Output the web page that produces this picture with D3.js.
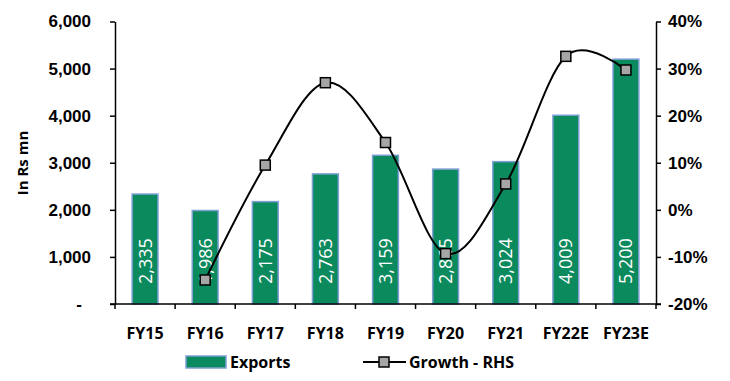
<!DOCTYPE html>
<html>
<head>
<meta charset="utf-8">
<script src="https://cdn.jsdelivr.net/npm/d3@7"></script>
<style>
  body { margin: 0; background: #fff; }
  svg { display: block; font-family: "Open Sans", sans-serif; }
</style>
</head>
<body>
<svg id="chart" width="730" height="381"></svg>
<script>
// data
const years = ["FY15", "FY16", "FY17", "FY18", "FY19", "FY20", "FY21", "FY22E", "FY23E"];
const exportsRsMn = [2335, 1986, 2175, 2763, 3159, 2865, 3024, 4009, 5200];
const growth = [null, -0.149, 0.095, 0.270, 0.143, -0.093, 0.055, 0.326, 0.297];
const leftTicks = [0, 1000, 2000, 3000, 4000, 5000, 6000];
const rightTicks = [-0.2, -0.1, 0, 0.1, 0.2, 0.3, 0.4];

const svg = d3.select("#chart");
const plot = { left: 115, right: 656, top: 21.5, bottom: 304 };

const x = d3.scaleBand()
  .domain(years)
  .range([plot.left, plot.right])
  .paddingInner(0.57)
  .paddingOuter(0.285);
const xStep = d3.scaleBand().domain(years).range([plot.left, plot.right]);
const yLeft = d3.scaleLinear().domain([0, 6000]).range([plot.bottom, plot.top]);
const yRight = d3.scaleLinear().domain([-0.2, 0.4]).range([plot.bottom, plot.top]);

// bars
svg.append("g")
  .selectAll("rect")
  .data(exportsRsMn)
  .join("rect")
  .attr("x", (d, i) => x(years[i]))
  .attr("y", d => yLeft(d))
  .attr("width", x.bandwidth())
  .attr("height", d => yLeft(0) - yLeft(d))
  .attr("fill", "#0b8a5e")
  .attr("stroke", "#7e9fd3")
  .attr("stroke-width", 1.5);

// data labels, inside base, rotated
svg.append("g")
  .selectAll("text")
  .data(exportsRsMn)
  .join("text")
  .attr("transform", (d, i) => `translate(${x(years[i]) + x.bandwidth() / 2 + 6.5},${yLeft(0) - 20}) rotate(-90)`)
  .attr("text-anchor", "start")
  .attr("fill", "#fff")
  .style("font-size", "18px")
  .text(d => d3.format(",")(d));

// left axis
const leftAxis = svg.append("g")
  .attr("transform", `translate(${plot.left},0)`)
  .call(d3.axisLeft(yLeft).tickValues(leftTicks).tickSize(5).tickSizeOuter(0)
    .tickFormat(d => d === 0 ? "-" : d3.format(",")(d)));
leftAxis.selectAll("text")
  .attr("x", d => d === 0 ? -33 : -24)
  .style("font-size", "17px").style("font-weight", "bold").attr("fill", "#000");

// right axis
const rightAxis = svg.append("g")
  .attr("transform", `translate(${plot.right},0)`)
  .call(d3.axisRight(yRight).tickValues(rightTicks).tickSize(5).tickSizeOuter(0)
    .tickFormat(d => Math.round(d * 100) + "%"));
rightAxis.selectAll("text")
  .attr("x", 12)
  .style("font-size", "17px").style("font-weight", "bold").attr("fill", "#000");

// x axis, ticks between categories
const xAxis = svg.append("g")
  .attr("transform", `translate(0,${plot.bottom})`);
xAxis.append("line")
  .attr("x1", plot.left - 5).attr("x2", plot.right + 5)
  .attr("stroke", "#000").attr("stroke-width", 1.5);
xAxis.selectAll("line.tick")
  .data(years.concat(["end"]))
  .join("line")
  .attr("class", "tick")
  .attr("x1", (d, i) => i < years.length ? xStep(d) : plot.right)
  .attr("x2", (d, i) => i < years.length ? xStep(d) : plot.right)
  .attr("y1", 0).attr("y2", 5)
  .attr("stroke", "#000").attr("stroke-width", 1.5);
xAxis.selectAll("text")
  .data(years)
  .join("text")
  .attr("x", d => xStep(d) + xStep.bandwidth() / 2)
  .attr("y", 35)
  .attr("text-anchor", "middle")
  .style("font-size", "16px").style("font-weight", "bold")
  .text(d => d);

svg.selectAll(".domain, .tick line").attr("stroke", "#000").attr("stroke-width", 1.5);

// axis title
svg.append("text")
  .attr("transform", "translate(28,163) rotate(-90)")
  .attr("text-anchor", "middle")
  .style("font-size", "15px").style("font-weight", "bold")
  .text("In Rs mn");

// growth line (smoothed)
const pts = years.map((d, i) => ({ year: d, g: growth[i] })).filter(d => d.g !== null);
const line = d3.line()
  .x(d => x(d.year) + x.bandwidth() / 2)
  .y(d => yRight(d.g))
  .curve(d3.curveCardinal.tension(0));
svg.append("path")
  .datum(pts)
  .attr("d", line)
  .attr("fill", "none")
  .attr("stroke", "#000")
  .attr("stroke-width", 2);
svg.append("g")
  .selectAll("rect")
  .data(pts)
  .join("rect")
  .attr("x", d => x(d.year) + x.bandwidth() / 2 - 5)
  .attr("y", d => yRight(d.g) - 5)
  .attr("width", 10).attr("height", 10)
  .attr("fill", "#a6a6a6")
  .attr("stroke", "#000")
  .attr("stroke-width", 1.5);

// legend
const legend = svg.append("g");
legend.append("rect")
  .attr("x", 186).attr("y", 356).attr("width", 40).attr("height", 12)
  .attr("fill", "#0b8a5e").attr("stroke", "#7e9fd3").attr("stroke-width", 1.5);
legend.append("text")
  .attr("x", 230).attr("y", 368)
  .style("font-size", "16px").style("font-weight", "bold")
  .text("Exports");
legend.append("line")
  .attr("x1", 363).attr("x2", 406).attr("y1", 362).attr("y2", 362)
  .attr("stroke", "#000").attr("stroke-width", 2);
legend.append("rect")
  .attr("x", 379).attr("y", 357).attr("width", 10).attr("height", 10)
  .attr("fill", "#a6a6a6").attr("stroke", "#000").attr("stroke-width", 1.5);
legend.append("text")
  .attr("x", 409).attr("y", 368)
  .style("font-size", "16px").style("font-weight", "bold")
  .text("Growth - RHS");
</script>
</body>
</html>
